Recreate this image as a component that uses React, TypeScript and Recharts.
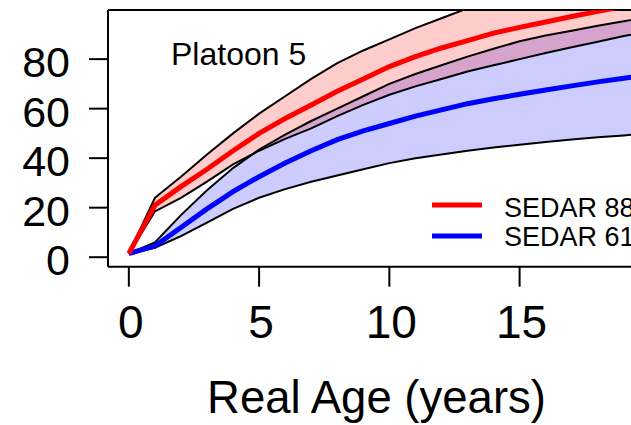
import { Area, ComposedChart, Line, ReferenceLine, XAxis, YAxis } from 'recharts'

const ages = [0, 1, 2, 3, 4, 5, 6, 7, 8, 9, 10, 11, 12, 13, 14, 15, 16, 17, 18, 19, 20]

// SEDAR 88 (red)
const sedar88Mean = [1.5, 21, 28.5, 35.5, 43, 50, 56, 61.5, 67, 72, 77, 81, 84.5, 87.5, 90.5, 92.8, 95, 97.2, 99.3, 101.3, 103]
const sedar88Lower = [1.5, 18.5, 24, 30.5, 37.5, 43, 47.8, 52, 57, 61.5, 65.6, 69, 72, 75, 77.5, 80, 82.5, 84.8, 87, 89.3, 91.3]
const sedar88Upper = [1.5, 24, 32.5, 41.5, 50, 58, 65, 72, 78.4, 83.5, 88, 92.5, 96.5, 100.5, 104, 107, 110, 112.5, 115, 117, 119]

// SEDAR 61 (blue)
const sedar61Mean = [1.5, 4.5, 12, 19.5, 26.5, 32.5, 38, 43, 47.5, 51, 54, 57, 59.5, 62, 64, 65.8, 67.5, 69.2, 70.8, 72.3, 73.6]
const sedar61Lower = [1.5, 3.8, 8.5, 14, 19.5, 24, 27.5, 30.5, 33, 35.5, 38, 40, 41.5, 43, 44.3, 45.4, 46.5, 47.5, 48.4, 49.2, 50]
const sedar61Upper = [1.5, 6, 17, 27, 36, 43.5, 49.5, 55, 60, 65, 70, 74, 77.5, 81, 84.2, 87.2, 89.5, 91.5, 93.5, 95.3, 97]

const xTicks = [0, 5, 10, 15]
const yTicks = [0, 20, 40, 60, 80]

const FONT = '"Liberation Sans", Arial, sans-serif'

const data = ages.map((age, i) => ({
  age,
  red: sedar88Mean[i],
  redLo: sedar88Lower[i],
  redHi: sedar88Upper[i],
  redBand: [sedar88Lower[i], sedar88Upper[i]],
  blue: sedar61Mean[i],
  blueLo: sedar61Lower[i],
  blueHi: sedar61Upper[i],
  blueBand: [sedar61Lower[i], sedar61Upper[i]],
}))

function XTick({ x, y, payload }: any) {
  return (
    <text x={x + 2} y={y + 51} textAnchor="middle" fontSize={46} fontFamily={FONT} fill="#000">
      {payload.value}
    </text>
  )
}

function YTick({ x, y, payload }: any) {
  return (
    <text x={x - 19} y={y + 18} textAnchor="end" fontSize={43} fontFamily={FONT} fill="#000">
      {payload.value}
    </text>
  )
}

export default function App() {
  return (
    <div style={{ position: 'absolute', left: 0, top: 0, width: 631, height: 425, overflow: 'hidden', background: '#fff' }}>
      <ComposedChart width={700} height={425} data={data} margin={{ top: 10, right: 29.3, left: 0, bottom: 58.3 }}>
        <XAxis
          dataKey="age"
          type="number"
          domain={[-0.8, 20.8]}
          ticks={xTicks}
          allowDataOverflow
          height={100}
          tickSize={20}
          tickMargin={0}
          tick={<XTick />}
          axisLine={{ stroke: '#000', strokeWidth: 2 }}
          tickLine={{ stroke: '#000', strokeWidth: 2 }}
        />
        <YAxis
          type="number"
          domain={[-3.84, 99.84]}
          ticks={yTicks}
          allowDataOverflow
          width={108}
          tickSize={19}
          tickMargin={0}
          tick={<YTick />}
          axisLine={{ stroke: '#000', strokeWidth: 2 }}
          tickLine={{ stroke: '#000', strokeWidth: 2 }}
        />
        <ReferenceLine y={99.84} stroke="#000" strokeWidth={2} />
        <Area dataKey="blueBand" type="linear" fill="#0000ff" fillOpacity={0.2} stroke="none" isAnimationActive={false} />
        <Area dataKey="redBand" type="linear" fill="#ff0000" fillOpacity={0.2} stroke="none" isAnimationActive={false} />
        <Line dataKey="blueLo" type="linear" stroke="#000" strokeWidth={2} dot={false} isAnimationActive={false} />
        <Line dataKey="blueHi" type="linear" stroke="#000" strokeWidth={2} dot={false} isAnimationActive={false} />
        <Line dataKey="redLo" type="linear" stroke="#000" strokeWidth={2} dot={false} isAnimationActive={false} />
        <Line dataKey="redHi" type="linear" stroke="#000" strokeWidth={2} dot={false} isAnimationActive={false} />
        <Line dataKey="blue" type="linear" stroke="#0000ff" strokeWidth={5} dot={false} isAnimationActive={false} />
        <Line dataKey="red" type="linear" stroke="#ff0000" strokeWidth={5} dot={false} isAnimationActive={false} />
      </ComposedChart>
      <svg width={631} height={425} style={{ position: 'absolute', left: 0, top: 0, pointerEvents: 'none' }}>
        <text x={171} y={65} fontSize={32} fontFamily={FONT} fill="#000">
          Platoon 5
        </text>
        <line x1={432} x2={482} y1={205} y2={205} stroke="#ff0000" strokeWidth={5} />
        <text x={504} y={216.5} fontSize={27} fontFamily={FONT} fill="#000">
          SEDAR 88
        </text>
        <line x1={432} x2={482} y1={236} y2={236} stroke="#0000ff" strokeWidth={5} />
        <text x={504} y={245.5} fontSize={27} fontFamily={FONT} fill="#000">
          SEDAR 61
        </text>
        <text x={376.5} y={413} textAnchor="middle" fontSize={45.5} fontFamily={FONT} fill="#000">
          Real Age (years)
        </text>
      </svg>
    </div>
  )
}
